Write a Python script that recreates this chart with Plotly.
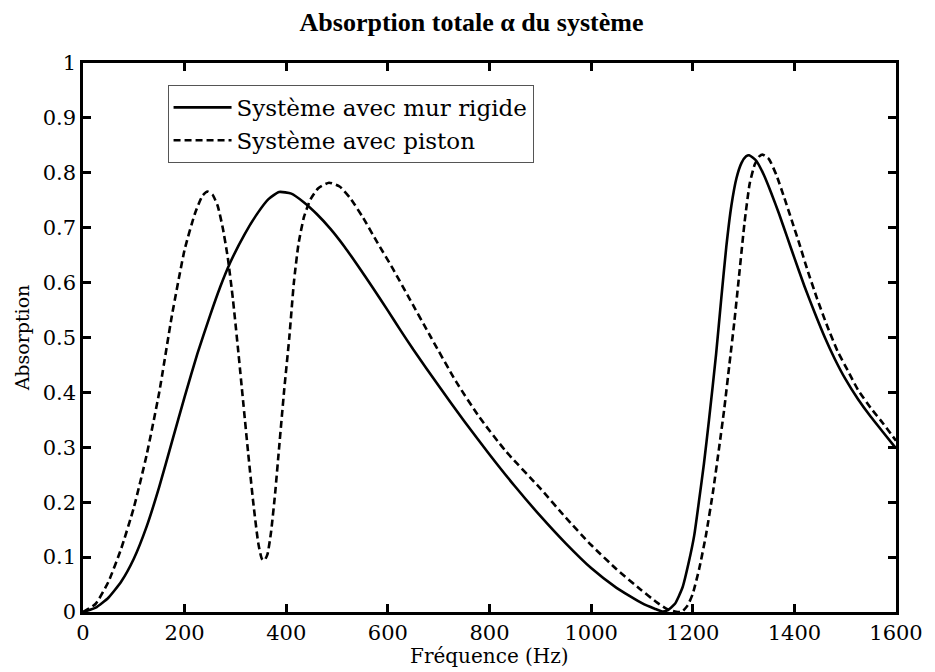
import plotly.graph_objects as go

# Rigid wall system (solid)
f_rigid = [0, 25, 50, 75, 100, 125, 150, 175, 200, 225, 250, 270, 290, 318, 344, 365, 386, 410, 435,
           460, 487, 515, 540, 570, 600, 625, 650, 700, 750, 800, 850, 900, 950, 1000, 1050, 1100, 1125,
           1140, 1150, 1165, 1180, 1192, 1203, 1212, 1222, 1232, 1246, 1256, 1266, 1276, 1286, 1296, 1305,
           1311, 1325, 1340, 1355, 1370, 1385, 1400, 1420, 1440, 1460, 1480, 1500, 1525, 1550, 1575, 1600]
a_rigid = [0.0, 0.008, 0.026, 0.055, 0.097, 0.155, 0.228, 0.31, 0.392, 0.47, 0.54, 0.592, 0.637, 0.688,
           0.727, 0.752, 0.765, 0.762, 0.746, 0.725, 0.698, 0.665, 0.632, 0.591, 0.549, 0.513, 0.478,
           0.412, 0.348, 0.287, 0.229, 0.175, 0.125, 0.08, 0.044, 0.016, 0.006, 0.001, 0.003, 0.015, 0.045,
           0.09, 0.14, 0.2, 0.27, 0.35, 0.47, 0.57, 0.665, 0.74, 0.79, 0.818, 0.83, 0.832, 0.822, 0.796,
           0.762, 0.725, 0.685, 0.645, 0.593, 0.545, 0.5, 0.46, 0.425, 0.388, 0.356, 0.327, 0.298]

# Piston system (dashed)
f_piston = [0, 25, 50, 75, 100, 125, 150, 175, 200, 220, 235, 245, 255, 265, 275, 285, 295, 305, 315, 325,
            335, 345, 352, 357, 363, 370, 378, 386, 396, 406, 415, 424, 435, 448, 463, 484, 505, 525, 550,
            578, 610, 640, 685, 734, 780, 831, 900, 950, 1000, 1050, 1096, 1130, 1150, 1165, 1178, 1190,
            1200, 1213, 1226, 1240, 1252, 1262, 1272, 1282, 1292, 1302, 1312, 1322, 1331, 1338, 1350, 1365,
            1380, 1395, 1410, 1425, 1445, 1465, 1485, 1505, 1525, 1550, 1575, 1600]
a_piston = [0.0, 0.015, 0.055, 0.115, 0.19, 0.285, 0.4, 0.54, 0.66, 0.725, 0.758, 0.766, 0.76, 0.74, 0.7,
            0.645, 0.57, 0.48, 0.385, 0.29, 0.2, 0.125, 0.097, 0.094, 0.105, 0.145, 0.215, 0.3, 0.405, 0.5,
            0.6, 0.67, 0.72, 0.752, 0.772, 0.782, 0.775, 0.755, 0.72, 0.675, 0.625, 0.575, 0.5, 0.42, 0.355,
            0.294, 0.225, 0.172, 0.122, 0.078, 0.042, 0.017, 0.005, 0.001, 0.0, 0.012, 0.033, 0.08, 0.14,
            0.22, 0.3, 0.37, 0.45, 0.53, 0.62, 0.71, 0.78, 0.815, 0.83, 0.833, 0.825, 0.795, 0.755, 0.713,
            0.67, 0.625, 0.57, 0.52, 0.475, 0.44, 0.405, 0.372, 0.343, 0.312]

x_ticks = [0, 200, 400, 600, 800, 1000, 1200, 1400, 1600]
y_ticks = [0, 0.1, 0.2, 0.3, 0.4, 0.5, 0.6, 0.7, 0.8, 0.9, 1]
y_tick_text = ["0", "0.1", "0.2", "0.3", "0.4", "0.5", "0.6", "0.7", "0.8", "0.9", "1"]

SERIF = "DejaVu Serif, Liberation Serif, serif"
TITLE_FONT = "Liberation Serif, Times New Roman, serif"

fig = go.Figure()
fig.add_trace(go.Scatter(x=f_rigid, y=a_rigid, mode="lines", name="Système avec mur rigide",
                         line=dict(color="black", width=2.6, shape="spline", smoothing=0.5)))
fig.add_trace(go.Scatter(x=f_piston, y=a_piston, mode="lines", name="Système avec piston",
                         line=dict(color="black", width=2.6, dash="7px,4px", shape="spline", smoothing=0.5)))

axis_common = dict(showgrid=False, zeroline=False, showline=True, linecolor="black", linewidth=2.5,
                   mirror="ticks", ticks="inside", ticklen=8, tickwidth=2.5, tickcolor="black",
                   tickfont=dict(family=SERIF, size=21, color="black"))

# The page body keeps an 8px margin, so the figure is 8px smaller and margins compensate.
fig.update_layout(
    width=927, height=664,
    margin=dict(l=75, r=29, t=55, b=60),
    paper_bgcolor="white", plot_bgcolor="white",
    title=dict(text="<b>Absorption totale α du système</b>", x=0.5, xanchor="center", y=0.979, yanchor="middle",
               font=dict(family=TITLE_FONT, size=26, color="black")),
    xaxis=dict(range=[0, 1600], tickvals=x_ticks, ticktext=[str(v) for v in x_ticks], **axis_common),
    yaxis=dict(range=[0, 1], tickvals=y_ticks, ticktext=y_tick_text,
               title=dict(text="Absorption", standoff=8, font=dict(family=SERIF, size=19, color="black")),
               **axis_common),
    legend=dict(x=0.104, y=0.96, xanchor="left", yanchor="top", bgcolor="white",
                bordercolor="#555555", borderwidth=1, font=dict(family=SERIF, size=23, color="black"),
                tracegroupgap=0, itemwidth=58),
    showlegend=True,
    annotations=[dict(text="Fréquence (Hz)", xref="paper", yref="paper", x=0.5, y=-0.08,
                      xanchor="center", yanchor="middle", showarrow=False,
                      font=dict(family=SERIF, size=20, color="black"))],
)

fig.write_html("out.html")
